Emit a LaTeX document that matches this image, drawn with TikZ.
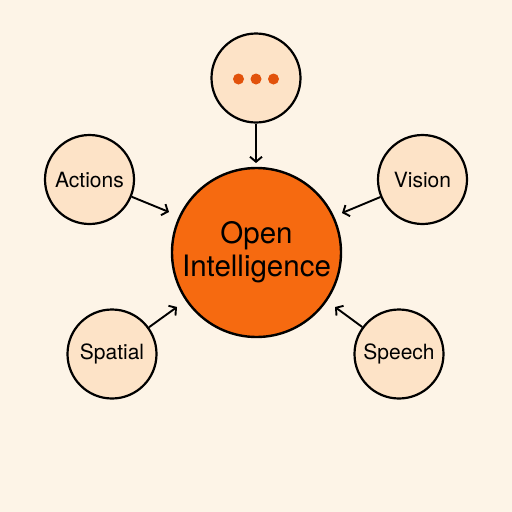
\documentclass[tikz,border=0pt]{standalone}
\usepackage{fontspec}
\setmainfont{TeX Gyre Heros}
\usetikzlibrary{arrows.meta}
\definecolor{bg}{HTML}{FDF4E7}
\definecolor{petal}{HTML}{FDE3C7}
\definecolor{core}{HTML}{F66A10}
\definecolor{dotc}{HTML}{E2520B}
\begin{document}
\begin{tikzpicture}[x=1pt,y=-1pt,
  sat/.style={circle,draw=black,line width=2.2pt,fill=petal,minimum size=89pt,inner sep=0pt,font=\fontsize{21}{24}\selectfont},
  hub/.style={circle,draw=black,line width=2.4pt,fill=core,minimum size=169pt,inner sep=0pt,align=center,font=\fontsize{29.5}{33}\selectfont},
  conn/.style={line width=1.9pt,-{Straight Barb[length=5pt,width=12pt,line width=1.9pt]}},
  dot/.style={circle,fill=dotc,minimum size=11pt,inner sep=0pt}]
\useasboundingbox[fill=bg] (0,0) rectangle (512,512);
\node[hub] (hub) at (256.5,252.5) {Open\\Intelligence};
\node[sat] (top) at (256,78) {};
\node[dot] (d1) at (238.5,79) {};
\node[dot] (d2) at (256,79) {};
\node[dot] (d3) at (273.5,79) {};
\node[sat] (act) at (89.5,179.5) {Actions};
\node[sat] (vis) at (422.5,179.5) {Vision};
\node[sat] (spa) at (112,354) {Spatial};
\node[sat] (spe) at (399,354) {Speech};
\coordinate (tTop) at (256,163);
\coordinate (tAct) at (169,212);
\coordinate (tVis) at (342,213);
\coordinate (tSpa) at (177,307);
\coordinate (tSpe) at (335,307);
\draw[conn] (top.south) -- (tTop);
\draw[conn] (act) -- (tAct);
\draw[conn] (vis) -- (tVis);
\draw[conn] (spa) -- (tSpa);
\draw[conn] (spe) -- (tSpe);
\end{tikzpicture}
\end{document}
